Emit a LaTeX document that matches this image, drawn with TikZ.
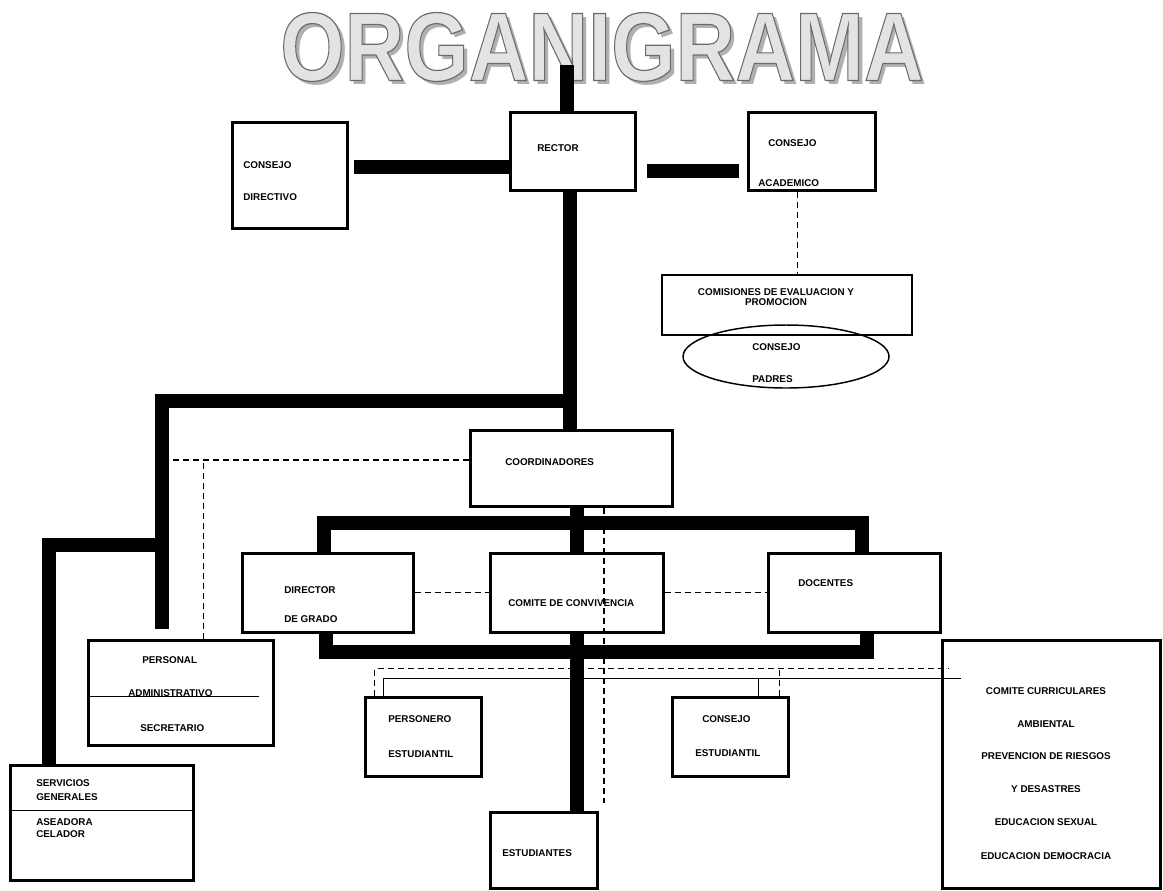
\documentclass[tikz,border=0pt]{standalone}
\usepackage{fontspec}
\setmainfont{Liberation Sans}
\usepackage{graphicx}
\usetikzlibrary{fit,calc,shapes.geometric}
\tikzset{
  box/.style={draw, line width=2.25pt, inner sep=0pt},
  lbl/.style={font=\bfseries\fontsize{7.4}{8}\selectfont, inner sep=0pt, anchor=west},
  clbl/.style={font=\bfseries\fontsize{7.4}{8}\selectfont, inner sep=0pt},
  bar/.style={line width=10.5pt, line join=miter, line cap=butt},
  dsh/.style={line width=0.9pt, dash pattern=on 4.5pt off 3pt},
  thinline/.style={line width=0.9pt},
  ttlstyle/.style={inner sep=0pt},
}
\newcommand{\ttltext}{\scalebox{0.85}[1]{\fontsize{73}{73}\selectfont\bfseries ORGANIGRAMA}}
\newcommand{\ttlout}{{\special{pdf:literal direct 2 Tr 0.9 w 0.42 G}\ttltext\special{pdf:literal direct 0 Tr}}}

\begin{document}
\begin{tikzpicture}[x=0.75pt,y=-0.75pt]
\path[use as bounding box] (0,0) rectangle (1163,890);

% ---- title ----
\node[ttlstyle, text=gray!62] (title-shadow) at (606,51) {\ttltext};
\node[ttlstyle, text=gray!22] (title) at (602,47) {\ttlout};

% ---- boxes ----
\node[box, fit={(510,112) (635,190)}] (rector) {};
\node[box, fit={(232,122) (347,228)}] (cd) {};
\node[box, fit={(748,112) (875,190)}] (ca) {};
\node[box, line width=1.5pt, fit={(662,275) (912,335)}] (com) {};
\node[draw, ellipse, line width=1.1pt, inner sep=0pt, minimum width=154.5pt, minimum height=47.25pt] (padres) at (786,356.5) {};
\node[box, fit={(470,430) (672,506)}] (coord) {};
\node[box, fit={(242,553) (413,632)}] (dg) {};
\node[box, fit={(490,553) (663,632)}] (cv) {};
\node[box, fit={(768,553) (940,632)}] (dc) {};
\node[box, fit={(88,640) (273,745)}] (pa) {};
\node[box, fit={(10,765) (193,880)}] (sg) {};
\node[box, fit={(365,697) (481,776)}] (pe) {};
\node[box, fit={(672,697) (788,776)}] (ce) {};
\node[box, fit={(490,812) (597,888)}] (es) {};
\node[box, fit={(942,640) (1160,888)}] (cc) {};

% dividers inside boxes
\draw[thinline] ($(pa.north west)+(0,58)$) -- ++(172,0);
\draw[thinline] ($(sg.north west)+(0,47)$) -- ($(sg.north east)+(0,47)$);

% ---- texts ----
\node[lbl] (t-rector) at (537,148) {RECTOR};
\node[lbl] (t-cd1) at (243,165) {CONSEJO};
\node[lbl] (t-cd2) at (243,197) {DIRECTIVO};
\node[lbl] (t-ca1) at (768,143) {CONSEJO};
\node[lbl] (t-ca2) at (758,183) {ACADEMICO};
\node[clbl, align=center, font=\bfseries\fontsize{7.4}{7.6}\selectfont] (t-com) at (776,297) {COMISIONES DE EVALUACION Y\\PROMOCION};
\node[lbl] (t-pd1) at (752,347) {CONSEJO};
\node[lbl] (t-pd2) at (752,379) {PADRES};
\node[lbl] (t-coord) at (505,462) {COORDINADORES};
\node[lbl] (t-dg1) at (284,590) {DIRECTOR};
\node[lbl] (t-dg2) at (284,619) {DE GRADO};
\node[lbl] (t-cv) at (508,603) {COMITE DE CONVIVENCIA};
\node[lbl] (t-dc) at (798,583) {DOCENTES};
\node[lbl] (t-pa1) at (142,660) {PERSONAL};
\node[lbl] (t-pa2) at (128,693) {ADMINISTRATIVO};
\node[lbl] (t-pa3) at (140,728) {SECRETARIO};
\node[lbl] (t-sg1) at (36,783) {SERVICIOS};
\node[lbl] (t-sg2) at (36,797) {GENERALES};
\node[lbl] (t-sg3) at (36,822) {ASEADORA};
\node[lbl] (t-sg4) at (36,834) {CELADOR};
\node[lbl] (t-pe1) at (388,719) {PERSONERO};
\node[lbl] (t-pe2) at (388,754) {ESTUDIANTIL};
\node[lbl] (t-ce1) at (702,719) {CONSEJO};
\node[lbl] (t-ce2) at (695,753) {ESTUDIANTIL};
\node[lbl] (t-es) at (502,853) {ESTUDIANTES};
\node[clbl] (t-cc1) at (1046,691) {COMITE CURRICULARES};
\node[clbl] (t-cc2) at (1046,724) {AMBIENTAL};
\node[clbl] (t-cc3) at (1046,756) {PREVENCION DE RIESGOS};
\node[clbl] (t-cc4) at (1046,789) {Y DESASTRES};
\node[clbl] (t-cc5) at (1046,822) {EDUCACION SEXUAL};
\node[clbl] (t-cc6) at (1046,856) {EDUCACION DEMOCRACIA};

% ---- dashed connectors ----
\draw[dsh] ($(ca.south)+(-14,0)$) coordinate (h1) -- (h1 |- com.north);
\coordinate (vL) at (163,401);
\draw[dsh] ($(coord.west)+(0,-8)$) coordinate (d1) -- (d1 -| vL);
\draw[dsh] ($(pa.north west)+(117,0)$) coordinate (d2) -- (d2 |- d1);
\draw[dsh] ($(coord.south)+(33,0)$) coordinate (d3) -- (d3 |- 0,803) coordinate (d3e);
\draw[dsh] (dg.east) -- (cv.west);
\draw[dsh] (cv.east) -- (dc.west);
\draw[dsh] ($(pe.north west)+(11,0)$) |- ($(cc.north west)+(8,30)$) coordinate (dl);
\draw[dsh] ($(ce.north east)+(-10,0)$) coordinate (d4) -- (d4 |- dl);

% ---- thin solid connectors ----
\draw[thinline] ($(pe.north west)+(20,0)$) |- ($(cc.north west)+(20,40)$) coordinate (sl);
\draw[thinline] ($(ce.north west)+(88,0)$) coordinate (s2) -- (s2 |- sl);

% ---- thick connectors ----
\coordinate (topbar) at (567,65);
\draw[bar] (topbar) -- (topbar |- rector.north);
\draw[bar] ($(cd.east)+(5,-8)$) coordinate (a1) -- (a1 -| rector.west);
\draw[bar] ($(rector.east)+(10,20)$) coordinate (b1) -- ($(b1 -| ca.west)+(-8,0)$);
\draw[bar] ($(rector.south)+(-2.5,0)$) coordinate (c1) -- (c1 |- coord.north);
\coordinate (jL) at (c1 |- vL);
\draw[bar] (jL) -| ($(pa.north west)+(75,-10)$);
\coordinate (e1) at (156,545);
\draw[bar] (e1) -| ($(sg.north west)+(40,0)$);
\draw[bar] (coord.south -| cv.north) -- (cv.north);
\coordinate (f) at ($(cv.north)+(0,-29)$);
\draw[bar] ($(dg.north west)+(83,0)$) |- (f) -| ($(dc.north west)+(95,0)$);
\coordinate (g) at ($(cv.south)+(0,18)$);
\draw[bar] ($(dg.south west)+(85,0)$) |- (g) -| ($(dc.south west)+(100,0)$);
\draw[bar] (cv.south) -- (cv.south |- es.north);
\end{tikzpicture}
\end{document}
